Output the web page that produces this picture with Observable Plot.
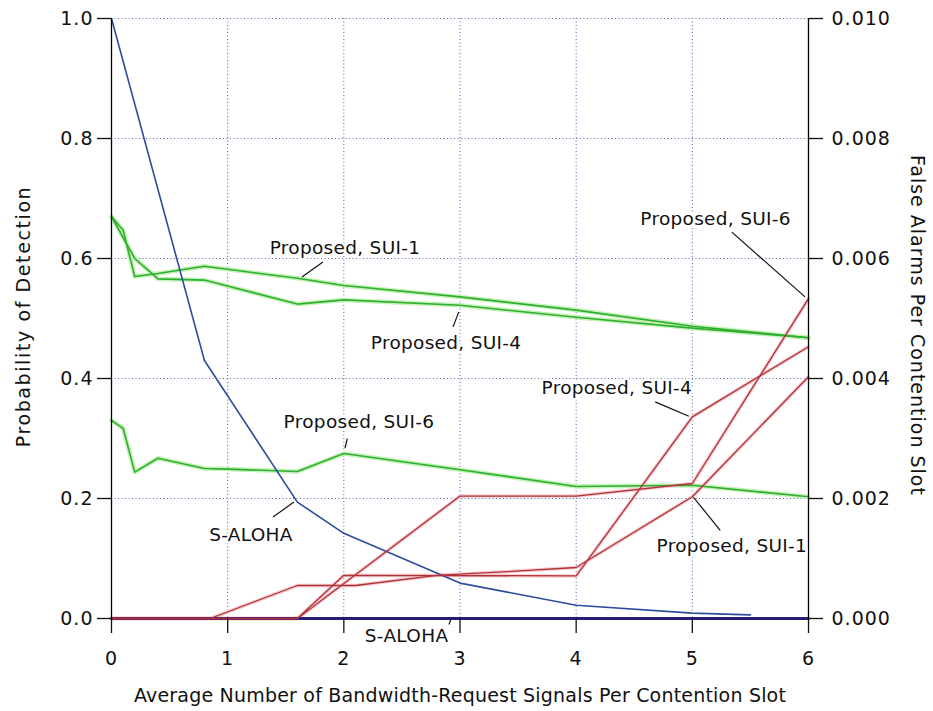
<!DOCTYPE html>
<html><head><meta charset="utf-8">
<script src="https://cdn.jsdelivr.net/npm/d3@7"></script>
<script src="https://cdn.jsdelivr.net/npm/@observablehq/plot@0.6"></script>
<style>
body{margin:0;background:#fff;}
g[aria-label="x-axis tick label"] text, g[aria-label="y-axis tick label"] text{letter-spacing:1px;}
</style>
</head><body><div id="chart"></div>
<script>
// ---- ticks ----
const xTicks = [0, 1, 2, 3, 4, 5, 6];
const pdTicks = [0, 0.2, 0.4, 0.6, 0.8, 1.0];
const faTicks = [0, 0.002, 0.004, 0.006, 0.008, 0.010];
const FA_TO_PD = 100; // right axis 0..0.010 shares the left 0..1 scale

// ---- Probability of detection (left axis) ----
const alohaPdX = [0, 0.8, 1.6, 2, 3, 4, 5, 5.5];
const alohaPd  = [1.0, 0.43, 0.194, 0.142, 0.059, 0.022, 0.009, 0.006];
const sui1PdX = [0, 0.1, 0.2, 0.4, 0.8, 1, 1.6, 2, 3, 4, 5, 6];
const sui1Pd  = [0.670, 0.647, 0.570, 0.575, 0.587, 0.582, 0.567, 0.555, 0.536, 0.514, 0.487, 0.468];
const sui4PdX = [0, 0.2, 0.4, 0.8, 1.6, 2, 3, 4, 5, 6];
const sui4Pd  = [0.670, 0.600, 0.566, 0.564, 0.524, 0.531, 0.522, 0.502, 0.484, 0.468];
const sui6PdX = [0, 0.1, 0.2, 0.4, 0.8, 1, 1.6, 2, 3, 4, 5, 6];
const sui6Pd  = [0.330, 0.317, 0.244, 0.267, 0.250, 0.249, 0.245, 0.275, 0.248, 0.220, 0.222, 0.203];

// ---- False alarms per contention slot (right axis) ----
const alohaFaX = [0, 6];
const alohaFa  = [0, 0];
const sui1FaX = [0, 0.85, 1.6, 2.1, 2.8, 3.4, 4, 5, 6];
const sui1Fa  = [0, 0, 0.00055, 0.00055, 0.00072, 0.00078, 0.00085, 0.00203, 0.00403];
const sui4FaX = [0, 1.6, 2, 4, 5, 6];
const sui4Fa  = [0, 0, 0.00072, 0.00071, 0.00336, 0.00453];
const sui6FaX = [0, 1.6, 3, 4, 5, 6];
const sui6Fa  = [0, 0, 0.00204, 0.00204, 0.00225, 0.00533];

// ---- annotations (positions in left-axis units) ----
const labelText = ["Proposed, SUI-1", "Proposed, SUI-4", "Proposed, SUI-6", "S-ALOHA", "S-ALOHA", "Proposed, SUI-6", "Proposed, SUI-4", "Proposed, SUI-1"];
const labelX = [2.01, 2.88, 2.13, 1.20, 2.54, 5.20, 4.35, 5.34];
const labelY = [0.617, 0.459, 0.328, 0.139, -0.0295, 0.666, 0.384, 0.121];
const ptrX1 = [1.82, 2.94, 2.03, 1.39, 2.905, 5.34, 4.68, 5.24];
const ptrY1 = [0.594, 0.486, 0.300, 0.169, -0.010, 0.644, 0.361, 0.147];
const ptrX2 = [1.64, 2.99, 2.01, 1.57, 2.92, 5.97, 4.97, 5.01];
const ptrY2 = [0.569, 0.511, 0.284, 0.194, -0.002, 0.536, 0.337, 0.202];

const zip = (xs, ys, k = 1) => xs.map((x, i) => ({x, y: ys[i] * k}));
const green = [zip(sui1PdX, sui1Pd), zip(sui4PdX, sui4Pd), zip(sui6PdX, sui6Pd)];
const red = [zip(sui1FaX, sui1Fa, FA_TO_PD), zip(sui4FaX, sui4Fa, FA_TO_PD), zip(sui6FaX, sui6Fa, FA_TO_PD)];
const blue = zip(alohaPdX, alohaPd);
const navy = zip(alohaFaX, alohaFa, FA_TO_PD);
const labels = labelText.map((t, i) => ({t, x: labelX[i], y: labelY[i]}));
const ptrs = ptrX1.map((x1, i) => ({x1, y1: ptrY1[i], x2: ptrX2[i], y2: ptrY2[i]}));

const gridColor = "#5a5ab8";
const chart = Plot.plot({
  width: 933, height: 711,
  marginLeft: 111, marginRight: 125, marginTop: 18, marginBottom: 93,
  x: {domain: [0, 6]},
  y: {domain: [0, 1]},
  style: {fontFamily: "DejaVu Sans", fontSize: "18.5px", background: "#fff", color: "#111", letterSpacing: "0.3px", overflow: "visible"},
  marks: [
    Plot.ruleX(xTicks.slice(1, -1), {stroke: gridColor, strokeDasharray: "1,2.5", strokeWidth: 1}),
    Plot.ruleY(pdTicks.slice(1), {stroke: gridColor, strokeDasharray: "1,2.5", strokeWidth: 1}),
    // glows
    ...green.map(d => Plot.line(d, {x: "x", y: "y", stroke: "#c4f2b8", strokeWidth: 4.5})),
    ...red.map(d => Plot.line(d, {x: "x", y: "y", stroke: "#f7cccc", strokeWidth: 3.5})),
    ...green.map(d => Plot.line(d, {x: "x", y: "y", stroke: "#2fae2f", strokeWidth: 1.6})),
    Plot.line(blue, {x: "x", y: "y", stroke: "#2c4c9c", strokeWidth: 1.6}),
    Plot.line(navy, {x: "x", y: "y", stroke: "#241e78", strokeWidth: 3}),
    ...red.map(d => Plot.line(d, {x: "x", y: "y", stroke: "#b0303c", strokeWidth: 1.3})),
    // axes
    Plot.ruleX([0, 6], {y1: 0, y2: 1, stroke: "#000", strokeWidth: 1.3}),
    Plot.axisY({ticks: pdTicks, anchor: "left", tickSize: 14, tickPadding: 4, tickFormat: d => d.toFixed(1), label: null, fontSize: 19, strokeWidth: 1.3}),
    Plot.axisY({ticks: faTicks.map(v => v * FA_TO_PD), anchor: "right", tickSize: 14, tickPadding: 9, tickFormat: d => (d / FA_TO_PD).toFixed(3), label: null, fontSize: 19, strokeWidth: 1.3}),
    Plot.axisX({ticks: xTicks, tickSize: 15, tickPadding: 18, tickFormat: d => String(d), label: null, fontSize: 19, strokeWidth: 1.3}),
    // axis titles
    Plot.text(["Probability of Detection"], {frameAnchor: "left", rotate: -90, dx: -88, dy: -2, textAnchor: "middle", lineAnchor: "middle", fontSize: 19}),
    Plot.text(["False Alarms Per Contention Slot"], {frameAnchor: "right", rotate: 90, dx: 109, dy: 7, textAnchor: "middle", lineAnchor: "middle", fontSize: 19}),
    Plot.text(["Average Number of Bandwidth-Request Signals Per Contention Slot"], {frameAnchor: "bottom", dy: 77, textAnchor: "middle", lineAnchor: "middle", fontSize: 19}),
    // annotations
    Plot.link(ptrs, {x1: "x1", y1: "y1", x2: "x2", y2: "y2", stroke: "#111", strokeWidth: 1.2}),
    Plot.text(labels, {x: "x", y: "y", text: "t", fill: "#111", stroke: "#fff", strokeWidth: 5, paintOrder: "stroke", textAnchor: "middle", lineAnchor: "middle"})
  ]
});
document.getElementById("chart").appendChild(chart);
d3.select(chart).selectAll("text").each(function() {
  const t = this.textContent;
  if (t.startsWith("Probability")) this.setAttribute("letter-spacing", "1.6px");
  else if (t.startsWith("False")) this.setAttribute("letter-spacing", "1px");
  else if (t.startsWith("Average")) this.setAttribute("letter-spacing", "0.2px");
});
</script>
</body></html>
